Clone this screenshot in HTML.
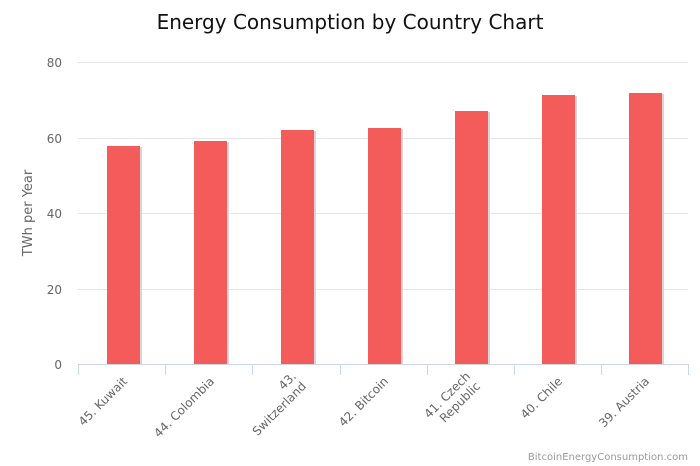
<!DOCTYPE html>
<html><head><meta charset="utf-8"><style>
html,body{margin:0;padding:0;background:#fff;}
svg{display:block;font-family:"DejaVu Sans","Liberation Sans",sans-serif;}
</style></head><body>
<svg width="700" height="466" viewBox="0 0 700 466" xmlns="http://www.w3.org/2000/svg">
<text x="350" y="29" text-anchor="middle" font-size="20" fill="#111">Energy Consumption by Country Chart</text>
<g stroke="#e6e6e6" stroke-width="1">
<line x1="78" x2="688" y1="62.5" y2="62.5"/>
<line x1="78" x2="688" y1="138.5" y2="138.5"/>
<line x1="78" x2="688" y1="213.5" y2="213.5"/>
<line x1="78" x2="688" y1="289.5" y2="289.5"/>
</g>
<g font-size="12" fill="#666" text-anchor="end">
<text x="62" y="67">80</text><text x="62" y="143">60</text><text x="62" y="218">40</text><text x="62" y="294">20</text><text x="62" y="369">0</text>
</g>
<text transform="translate(32,213) rotate(-90)" text-anchor="middle" font-size="13" fill="#666">TWh per Year</text>
<g fill="#d6d6d6">
<rect x="109" y="147" width="33" height="217"/>
<rect x="196" y="142" width="33" height="222"/>
<rect x="283" y="131" width="33" height="233"/>
<rect x="370" y="129" width="33" height="235"/>
<rect x="457" y="112" width="33" height="252"/>
<rect x="544" y="96" width="33" height="268"/>
<rect x="631" y="94" width="33" height="270"/>
</g>
<g fill="#f45b5b">
<rect x="107" y="146" width="33" height="218"/>
<rect x="194" y="141" width="33" height="223"/>
<rect x="281" y="130" width="33" height="234"/>
<rect x="368" y="128" width="33" height="236"/>
<rect x="455" y="111" width="33" height="253"/>
<rect x="542" y="95" width="33" height="269"/>
<rect x="629" y="93" width="33" height="271"/>
</g>
<g stroke="#ccd6eb" stroke-width="1">
<line x1="78" x2="688" y1="364.5" y2="364.5"/>
<line x1="78.5" x2="78.5" y1="364" y2="375"/>
<line x1="165.5" x2="165.5" y1="364" y2="375"/>
<line x1="252.5" x2="252.5" y1="364" y2="375"/>
<line x1="340.5" x2="340.5" y1="364" y2="375"/>
<line x1="427.5" x2="427.5" y1="364" y2="375"/>
<line x1="514.5" x2="514.5" y1="364" y2="375"/>
<line x1="601.5" x2="601.5" y1="364" y2="375"/>
<line x1="688.5" x2="688.5" y1="364" y2="375"/>
</g>
<g font-size="12" fill="#666" text-anchor="end">
<text transform="translate(128,382) rotate(-45)">45. Kuwait</text>
<text transform="translate(215,382) rotate(-45)">44. Colombia</text>
<text transform="translate(297,377) rotate(-45)"><tspan x="0" y="0">43.</tspan><tspan x="0" y="14">Switzerland</tspan></text>
<text transform="translate(389,382) rotate(-45)">42. Bitcoin</text>
<text transform="translate(471,377) rotate(-45)"><tspan x="0" y="0">41. Czech</tspan><tspan x="0" y="14">Republic</tspan></text>
<text transform="translate(563,382) rotate(-45)">40. Chile</text>
<text transform="translate(650,382) rotate(-45)">39. Austria</text>
</g>
<text x="688" y="460" text-anchor="end" font-size="10" fill="#999">BitcoinEnergyConsumption.com</text>
</svg>
</body></html>
